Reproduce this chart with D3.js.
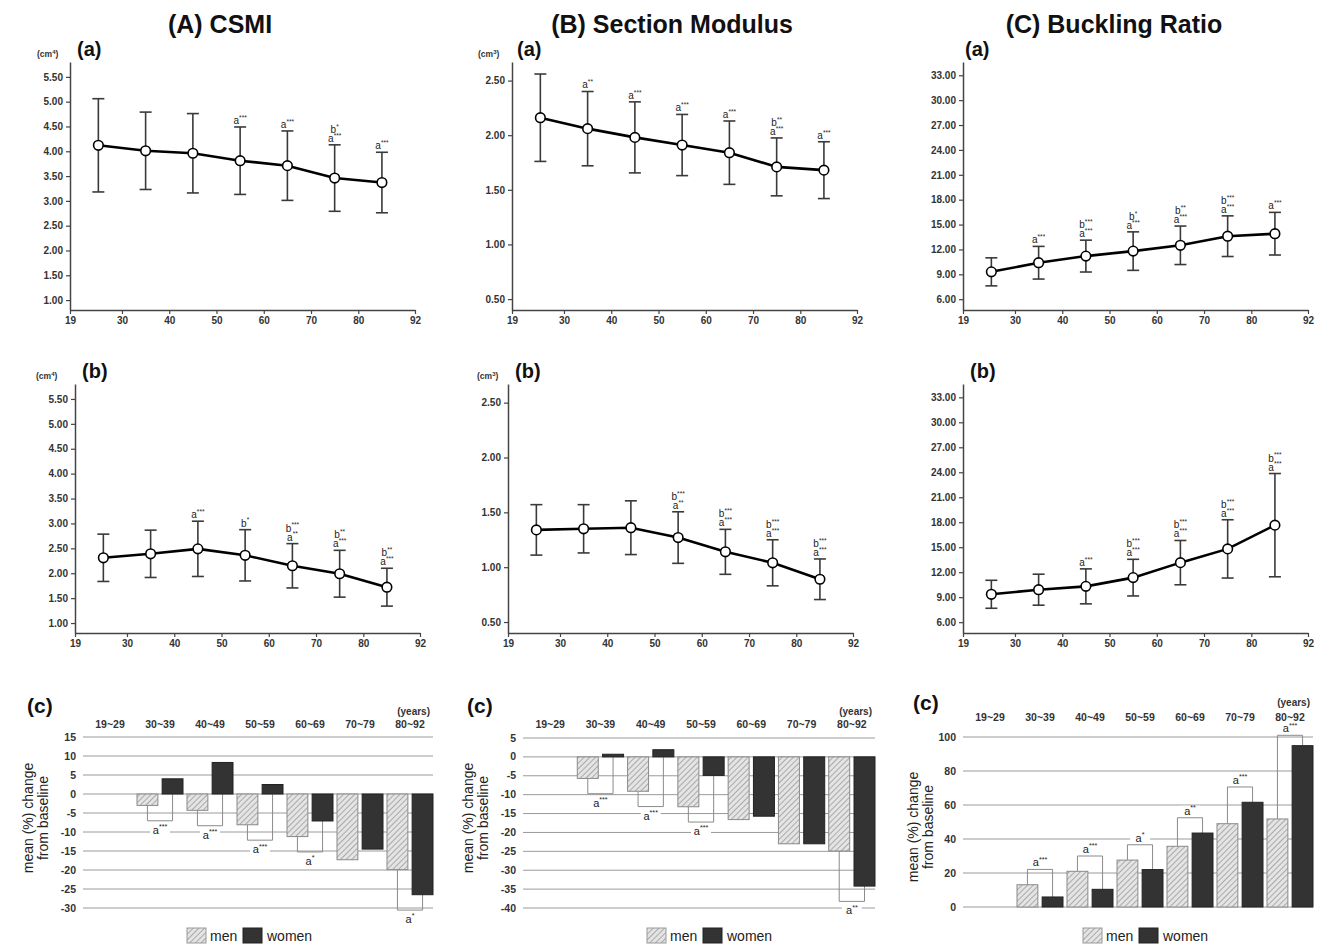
<!DOCTYPE html>
<html>
<head>
<meta charset="utf-8">
<script src="https://cdn.jsdelivr.net/npm/d3@7"></script>
<style>
    body { margin: 0; background: #fff; }
    svg { font-family: "Liberation Sans", Arial, sans-serif; }
</style>
</head>
<body>
<svg id="fig" width="1324" height="946"></svg>
<script>
// Age axis for the line panels
var ageMid = [25, 35, 45, 55, 65, 75, 85];
var xTicks = [19, 30, 40, 50, 60, 70, 80, 92];
var ageGroups = ["19~29", "30~39", "40~49", "50~59", "60~69", "70~79", "80~92"];

// (A) CSMI
var csmiMenMean = [4.12, 4.01, 3.96, 3.81, 3.71, 3.46, 3.37];
var csmiMenSD = [0.94, 0.78, 0.80, 0.68, 0.70, 0.67, 0.61];
var csmiMenSig = [[], [], [], ["a***"], ["a***"], ["b*", "a***"], ["a***"]];
var csmiWomenMean = [2.31, 2.39, 2.49, 2.36, 2.15, 1.99, 1.72];
var csmiWomenSD = [0.475, 0.475, 0.555, 0.515, 0.445, 0.47, 0.38];
var csmiWomenSig = [[], [], ["a***"], ["b*"], ["b***", "a**"], ["b**", "a***"], ["b**", "a***"]];
var csmiTicks = [1.0, 1.5, 2.0, 2.5, 3.0, 3.5, 4.0, 4.5, 5.0, 5.5];
var csmiChangeMen = [0, -3.0, -4.3, -8.1, -11.2, -17.3, -19.9];
var csmiChangeWomen = [0, 4.0, 8.3, 2.5, -7.1, -14.5, -26.5];
var csmiChangeSig = [null, "a***", "a***", "a***", "a*", null, "a*"];
var csmiChangeTicks = [15, 10, 5, 0, -5, -10, -15, -20, -25, -30];

// (B) Section Modulus
var smMenMean = [2.16, 2.06, 1.98, 1.91, 1.84, 1.71, 1.68];
var smMenSD = [0.40, 0.34, 0.325, 0.28, 0.29, 0.265, 0.26];
var smMenSig = [[], ["a**"], ["a***"], ["a***"], ["a***"], ["b**", "a***"], ["a***"]];
var smWomenMean = [1.34, 1.35, 1.36, 1.27, 1.14, 1.04, 0.89];
var smWomenSD = [0.23, 0.22, 0.245, 0.235, 0.205, 0.21, 0.185];
var smWomenSig = [[], [], [], ["b***", "a**"], ["b***", "a***"], ["b***", "a***"], ["b***", "a***"]];
var smTicks = [0.5, 1.0, 1.5, 2.0, 2.5];
var smChangeMen = [0, -5.7, -9.1, -13.2, -16.6, -23.0, -24.9];
var smChangeWomen = [0, 0.7, 1.9, -4.9, -15.7, -23.0, -34.2];
var smChangeSig = [null, "a***", "a***", "a***", null, null, "a**"];
var smChangeTicks = [5, 0, -5, -10, -15, -20, -25, -30, -35, -40];

// (C) Buckling Ratio
var brMenMean = [9.3, 10.4, 11.2, 11.8, 12.5, 13.6, 13.9];
var brMenSD = [1.69, 1.97, 1.92, 2.32, 2.32, 2.45, 2.57];
var brMenSig = [[], ["a***"], ["b***", "a***"], ["b*", "a***"], ["b**", "a***"], ["b***", "a***"], ["a***"]];
var brWomenMean = [9.35, 9.9, 10.3, 11.35, 13.15, 14.8, 17.65];
var brWomenSD = [1.68, 1.86, 2.1, 2.2, 2.66, 3.5, 6.2];
var brWomenSig = [[], [], ["a***"], ["b***", "a***"], ["b***", "a***"], ["b***", "a***"], ["b***", "a***"]];
var brTicks = [6, 9, 12, 15, 18, 21, 24, 27, 30, 33];
var brChangeMen = [0, 13.1, 21.0, 27.6, 35.7, 49.0, 51.8];
var brChangeWomen = [0, 5.9, 10.4, 22.0, 43.5, 61.6, 94.9];
var brChangeSig = [null, "a***", "a***", "a*", "a**", "a***", "a***"];
var brChangeTicks = [0, 20, 40, 60, 80, 100];

var svg = d3.select("#fig");

// hatch fill for the men bars
var hatch = svg.append("defs").append("pattern")
    .attr("id", "hatch")
    .attr("patternUnits", "userSpaceOnUse")
    .attr("width", 4)
    .attr("height", 4)
    .attr("patternTransform", "rotate(45)");
hatch.append("rect").attr("width", 4).attr("height", 4).attr("fill", "#e4e4e4");
hatch.append("line")
    .attr("x1", 0).attr("y1", 0).attr("x2", 0).attr("y2", 4)
    .attr("stroke", "#8a8a8a").attr("stroke-width", 1.3);

// letter with superscript stars
function sigText(g, label, x, y, size) {
    var t = g.append("text")
        .attr("x", x)
        .attr("y", y)
        .attr("text-anchor", "middle")
        .attr("font-size", size)
        .attr("fill", "#222");
    t.append("tspan").text(label.charAt(0));
    t.append("tspan")
        .attr("font-size", size * 0.65)
        .attr("dy", -size * 0.42)
        .text(label.slice(1));
    return t;
}

function styleAxis(axisG) {
    axisG.attr("font-family", "Liberation Sans, Arial, sans-serif");
    axisG.select(".domain").attr("stroke", "#444").attr("stroke-width", 1.5);
    axisG.selectAll(".tick line").attr("stroke", "#444").attr("stroke-width", 1.2);
    axisG.selectAll(".tick text")
        .attr("font-size", 10)
        .attr("font-weight", "bold")
        .attr("fill", "#333");
}

// Titles
var titles = [["(A) CSMI", 220], ["(B) Section Modulus", 672], ["(C) Buckling Ratio", 1114]];
titles.forEach(function(t) {
    svg.append("text")
        .attr("x", t[1])
        .attr("y", 33)
        .attr("text-anchor", "middle")
        .attr("font-size", 25)
        .attr("font-weight", "bold")
        .attr("fill", "#111")
        .text(t[0]);
});

function linePanel(p) {
    var g = svg.append("g");
    var x = d3.scaleLinear().domain([19, 92]).range([p.left, p.right]);
    var y = d3.scaleLinear().domain(p.yDomain).range([p.bottom, p.top]);

    var xAxis = g.append("g")
        .attr("transform", `translate(0, ${p.bottom})`)
        .call(d3.axisBottom(x).tickValues(xTicks).tickFormat(d3.format("d")).tickSize(4).tickSizeOuter(0));
    styleAxis(xAxis);
    var yAxis = g.append("g")
        .attr("transform", `translate(${p.left}, 0)`)
        .call(d3.axisLeft(y).tickValues(p.yTicks).tickFormat(d3.format(".2f")).tickSize(4).tickSizeOuter(0));
    styleAxis(yAxis);

    var pts = p.mean.map(function(m, i) {
        return { age: ageMid[i], mean: m, sd: p.sd[i], sig: p.sig[i] };
    });

    // error bars
    var eb = g.append("g").attr("stroke", "#3a3a3a").attr("stroke-width", 1.6);
    pts.forEach(function(d) {
        var cx = x(d.age);
        eb.append("line").attr("x1", cx).attr("x2", cx)
            .attr("y1", y(d.mean - d.sd)).attr("y2", y(d.mean + d.sd));
        [d.mean - d.sd, d.mean + d.sd].forEach(function(v) {
            eb.append("line").attr("x1", cx - 6).attr("x2", cx + 6)
                .attr("y1", y(v)).attr("y2", y(v));
        });
    });

    // mean line
    g.append("path")
        .datum(pts)
        .attr("fill", "none")
        .attr("stroke", "#000")
        .attr("stroke-width", 2.6)
        .attr("d", d3.line().x(d => x(d.age)).y(d => y(d.mean)));

    g.selectAll("circle")
        .data(pts)
        .enter()
        .append("circle")
        .attr("cx", d => x(d.age))
        .attr("cy", d => y(d.mean))
        .attr("r", 4.8)
        .attr("fill", "#fff")
        .attr("stroke", "#000")
        .attr("stroke-width", 1.6);

    // significance marks above the upper cap
    pts.forEach(function(d) {
        var n = d.sig.length;
        d.sig.forEach(function(s, k) {
            sigText(g, s, x(d.age), y(d.mean + d.sd) - 3 - (n - 1 - k) * 9, 10);
        });
    });

    // panel label and unit
    g.append("text")
        .attr("x", p.labelX)
        .attr("y", p.top - 6)
        .attr("font-size", 20)
        .attr("font-weight", "bold")
        .attr("fill", "#111")
        .text(p.label);
    if (p.unit) {
        var u = g.append("text")
            .attr("x", p.unitX)
            .attr("y", p.top - 5)
            .attr("font-size", 8.5)
            .attr("font-weight", "bold")
            .attr("fill", "#333")
            .text("(cm");
        u.append("tspan").attr("font-size", 6).attr("dy", -3).text(p.unit);
        u.append("tspan").attr("dy", 3).text(")");
    }
}

function barPanel(p) {
    var g = svg.append("g");
    var x0 = d3.scaleBand().domain(ageGroups).range([p.left, p.right]);
    var x1 = d3.scaleBand().domain(["men", "women"]).range([4, x0.bandwidth()]).paddingInner(0.17);
    var y = d3.scaleLinear().domain(p.yDomain).range([p.bottom, p.top]);
    var span = p.yDomain[1] - p.yDomain[0];

    // gridlines
    g.selectAll(".grid")
        .data(p.yTicks)
        .enter()
        .append("line")
        .attr("x1", p.left)
        .attr("x2", p.right)
        .attr("y1", d => y(d))
        .attr("y2", d => y(d))
        .attr("stroke", "#9a9a9a")
        .attr("stroke-width", 1);

    g.selectAll(".ylab")
        .data(p.yTicks)
        .enter()
        .append("text")
        .attr("x", p.left - 7)
        .attr("y", d => y(d) + 3.5)
        .attr("text-anchor", "end")
        .attr("font-size", 10.5)
        .attr("font-weight", "bold")
        .attr("fill", "#333")
        .text(d => d);

    // age group headers
    g.selectAll(".head")
        .data(ageGroups)
        .enter()
        .append("text")
        .attr("x", d => x0(d) + x0.bandwidth() / 2 + 2)
        .attr("y", p.headY)
        .attr("text-anchor", "middle")
        .attr("font-size", 10.5)
        .attr("font-weight", "bold")
        .attr("fill", "#333")
        .text(d => d);
    g.append("text")
        .attr("x", p.right - 3)
        .attr("y", p.yearsY)
        .attr("text-anchor", "end")
        .attr("font-size", 10)
        .attr("font-weight", "bold")
        .attr("fill", "#333")
        .text("(years)");

    var rows = ageGroups.map(function(a, i) {
        return { group: a, men: p.men[i], women: p.women[i], sig: p.sig[i] };
    });

    // brackets (drawn under the bars)
    var br = g.append("g");
    rows.forEach(function(d) {
        if (!d.sig) return;
        var xm = x0(d.group) + x1("men") + x1.bandwidth() / 2;
        var xw = x0(d.group) + x1("women") + x1.bandwidth() / 2;
        var level, mEnd, wEnd, cy;
        if (p.up) {
            level = Math.min(Math.max(d.men, d.women, 0) + 0.09 * span, p.yDomain[1] + 0.01 * span);
            mEnd = Math.max(d.men, 0); wEnd = Math.max(d.women, 0);
            cy = y(level) - 7;
        } else {
            level = Math.min(d.men, d.women, 0) - 0.09 * span;
            mEnd = Math.min(d.men, 0); wEnd = Math.min(d.women, 0);
            cy = y(level) + 9;
        }
        br.append("path")
            .attr("d", `M${xm},${y(mEnd)}V${y(level)}H${xw}V${y(wEnd)}`)
            .attr("fill", "none")
            .attr("stroke", "#8a8a8a")
            .attr("stroke-width", 1);
        br.append("rect")
            .attr("x", (xm + xw) / 2 - 10)
            .attr("y", cy - 5)
            .attr("width", 20)
            .attr("height", 10)
            .attr("fill", "#fff");
        sigText(br, d.sig, (xm + xw) / 2, cy + 4, 11);
    });

    // bars
    rows.forEach(function(d) {
        ["men", "women"].forEach(function(k) {
            var v = d[k];
            if (v === 0) return;
            g.append("rect")
                .attr("x", x0(d.group) + x1(k))
                .attr("y", y(Math.max(v, 0)))
                .attr("width", x1.bandwidth())
                .attr("height", Math.abs(y(v) - y(0)))
                .attr("fill", k === "men" ? "url(#hatch)" : "#333")
                .attr("stroke", k === "men" ? "#8a8a8a" : "#222")
                .attr("stroke-width", 1);
        });
    });

    // (c) label
    g.append("text")
        .attr("x", p.labelX)
        .attr("y", p.labelY)
        .attr("font-size", 21)
        .attr("font-weight", "bold")
        .attr("fill", "#111")
        .text("(c)");

    // y title
    var yt = g.append("text")
        .attr("transform", `translate(${p.titleX}, ${p.titleY}) rotate(-90)`)
        .attr("text-anchor", "middle")
        .attr("font-size", 14)
        .attr("fill", "#222");
    yt.append("tspan").attr("x", 0).attr("y", 0).text("mean (%) change");
    yt.append("tspan").attr("x", 0).attr("y", 15).text("from baseline");

    // legend
    var lg = g.append("g").attr("transform", `translate(${p.legendX}, 928)`);
    lg.append("rect").attr("width", 19).attr("height", 15)
        .attr("fill", "url(#hatch)").attr("stroke", "#9a9a9a");
    lg.append("text").attr("x", 23).attr("y", 13).attr("font-size", 14).attr("fill", "#222").text("men");
    lg.append("rect").attr("x", 56).attr("width", 19).attr("height", 15)
        .attr("fill", "#333").attr("stroke", "#222");
    lg.append("text").attr("x", 80).attr("y", 13).attr("font-size", 14).attr("fill", "#222").text("women");
}

// Row (a): men
linePanel({ left: 70, right: 415, top: 62, bottom: 310, yDomain: [0.8, 5.8], yTicks: csmiTicks,
    mean: csmiMenMean, sd: csmiMenSD, sig: csmiMenSig, label: "(a)", labelX: 77, unit: "4", unitX: 37 });
linePanel({ left: 512, right: 857, top: 62, bottom: 310, yDomain: [0.4, 2.67], yTicks: smTicks,
    mean: smMenMean, sd: smMenSD, sig: smMenSig, label: "(a)", labelX: 517, unit: "3", unitX: 478 });
linePanel({ left: 963, right: 1308, top: 62, bottom: 310, yDomain: [4.7, 34.6], yTicks: brTicks,
    mean: brMenMean, sd: brMenSD, sig: brMenSig, label: "(a)", labelX: 965 });

// Row (b): women
linePanel({ left: 75, right: 420, top: 384, bottom: 633, yDomain: [0.8, 5.8], yTicks: csmiTicks,
    mean: csmiWomenMean, sd: csmiWomenSD, sig: csmiWomenSig, label: "(b)", labelX: 82, unit: "4", unitX: 36 });
linePanel({ left: 508, right: 853, top: 384, bottom: 633, yDomain: [0.4, 2.67], yTicks: smTicks,
    mean: smWomenMean, sd: smWomenSD, sig: smWomenSig, label: "(b)", labelX: 515, unit: "3", unitX: 477 });
linePanel({ left: 963, right: 1308, top: 384, bottom: 633, yDomain: [4.7, 34.6], yTicks: brTicks,
    mean: brWomenMean, sd: brWomenSD, sig: brWomenSig, label: "(b)", labelX: 970 });

// Row (c): percent change
barPanel({ left: 83, right: 433, top: 737, bottom: 908, yDomain: [-30, 15], yTicks: csmiChangeTicks,
    men: csmiChangeMen, women: csmiChangeWomen, sig: csmiChangeSig, up: false,
    headY: 728, yearsY: 715, labelX: 27, labelY: 713, titleX: 33, titleY: 818, legendX: 187 });
barPanel({ left: 523, right: 875, top: 738, bottom: 908, yDomain: [-40, 5], yTicks: smChangeTicks,
    men: smChangeMen, women: smChangeWomen, sig: smChangeSig, up: false,
    headY: 728, yearsY: 715, labelX: 467, labelY: 713, titleX: 473, titleY: 818, legendX: 647 });
barPanel({ left: 963, right: 1313, top: 737, bottom: 907, yDomain: [0, 100], yTicks: brChangeTicks,
    men: brChangeMen, women: brChangeWomen, sig: brChangeSig, up: true,
    headY: 721, yearsY: 706, labelX: 913, labelY: 710, titleX: 918, titleY: 827, legendX: 1083 });
</script>
</body>
</html>
